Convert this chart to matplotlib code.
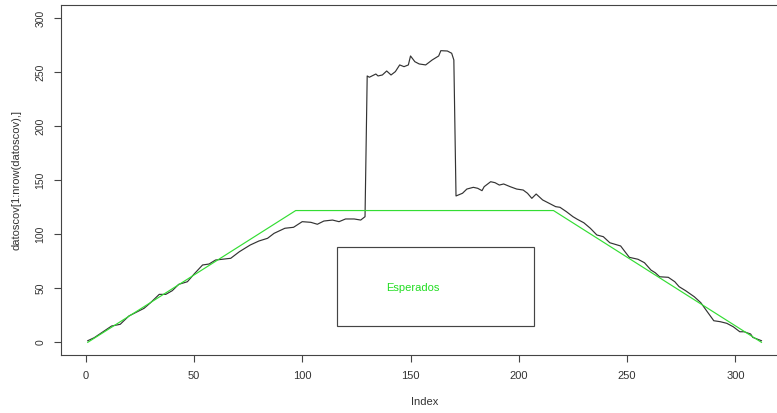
import matplotlib
matplotlib.use("Agg")
import matplotlib.pyplot as plt
from matplotlib.patches import Rectangle

plt.rcParams['font.family'] = ['Liberation Sans', 'DejaVu Sans']

# Observed series (index, value)
obs_index = [1, 4, 12, 16, 18, 20, 27, 30, 34, 37, 40, 43, 47, 50, 54, 57,
             60, 67, 71, 76, 80, 84, 87, 92, 96, 100, 104, 107, 110, 114, 117,
             120, 124, 127, 129, 130, 131, 134, 135, 137, 139, 141, 143, 145,
             147, 149, 150, 152, 154, 157, 160, 163, 164, 167, 169, 170, 171,
             174, 176, 179, 181, 183, 184, 187, 189, 191, 193, 196, 199, 202,
             204, 206, 208, 211, 214, 217, 219, 222, 225, 227, 230, 233, 236,
             239, 242, 247, 249, 251, 255, 258, 261, 263, 265, 269, 272, 274,
             277, 281, 284, 287, 290, 293, 296, 299, 302, 304, 307, 308, 312]
obs_value = [1.5, 4.3, 15.1, 16.7, 20.6, 24.4, 31.5, 36.7, 44.4, 44.4, 47.8,
             53.7, 56.1, 63.0, 71.6, 72.5,
             76.2, 77.8, 83.9, 90.1, 93.8, 96.3, 100.9, 105.6, 106.5, 111.7,
             111.1, 109.3, 112.3, 113.2, 111.7, 114.2, 114.2, 113.2, 116.3,
             246.6, 245.4, 248.4, 246.6, 247.5, 251.2, 247.5, 250.6, 256.8,
             255.2, 256.8, 265.1, 259.8, 257.7, 256.8, 261.4, 265.1, 270.0,
             269.7, 267.6, 261.4, 135.5,
             138.0, 141.9, 143.5, 142.6, 140.4, 144.1, 148.7, 147.8, 145.6,
             146.6, 144.1, 141.9, 141.0, 138.0, 133.3, 137.3, 131.8, 128.7,
             125.6, 125.0, 120.9, 116.3, 113.9, 110.7, 105.6, 99.4, 97.8, 92.2,
             89.2, 83.9, 78.7, 76.9, 73.7, 66.9, 64.4, 60.7, 60.2, 56.1, 51.5,
             47.8, 42.2, 36.7, 28.3, 20.0, 19.1, 17.6, 14.4, 9.8, 9.8, 7.7,
             4.6, 1.5]

# Expected profile ("Esperados")
exp_index = [1, 97, 216, 312]
exp_value = [0, 122, 122, 0]

# Legend box corners and label
box_x = [116, 207]
box_y = [15, 88]
legend_label = "Esperados"
legend_pos = (151, 50)

x_ticks = [0, 50, 100, 150, 200, 250, 300]
y_ticks = [0, 50, 100, 150, 200, 250, 300]

W, H = 777, 413
fig = plt.figure(figsize=(W / 100, H / 100), dpi=100)
left, right, top, bottom = 60.8, 788.4, 5.3, 355.3
ax = fig.add_axes([left / W, 1 - bottom / H, (right - left) / W, (bottom - top) / H])

ax.plot(obs_index, obs_value, color="#333333", lw=0.85)
ax.plot(exp_index, exp_value, color="#33dd33", lw=0.85)
ax.add_patch(Rectangle((box_x[0], box_y[0]), box_x[1] - box_x[0], box_y[1] - box_y[0],
                       fill=False, edgecolor="#444444", lw=0.85))
ax.text(legend_pos[0], legend_pos[1], legend_label, color="#22dd22",
        ha="center", va="center", fontsize=8)

n = 312
xr = (n - 1) * 0.04
ax.set_xlim(1 - xr, n + xr)
ax.set_ylim(-12, 312)

ax.set_xticks(x_ticks)
ax.set_yticks(y_ticks)
ax.tick_params(axis="both", length=5, width=0.8, color="#444444", labelcolor="#333333")
ax.tick_params(axis="x", labelsize=8, pad=6)
ax.tick_params(axis="y", labelsize=7.5, pad=6)
for lab in ax.get_yticklabels():
    lab.set_rotation(90)
    lab.set_va("center")

for s in ax.spines.values():
    s.set_color("#444444")
    s.set_linewidth(0.8)

ax.set_xlabel("Index", fontsize=8, color="#333333", labelpad=12)
ax.set_ylabel("datoscov[1:nrow(datoscov),]", fontsize=8, color="#333333", labelpad=10)

fig.savefig("out.png", dpi=100)
